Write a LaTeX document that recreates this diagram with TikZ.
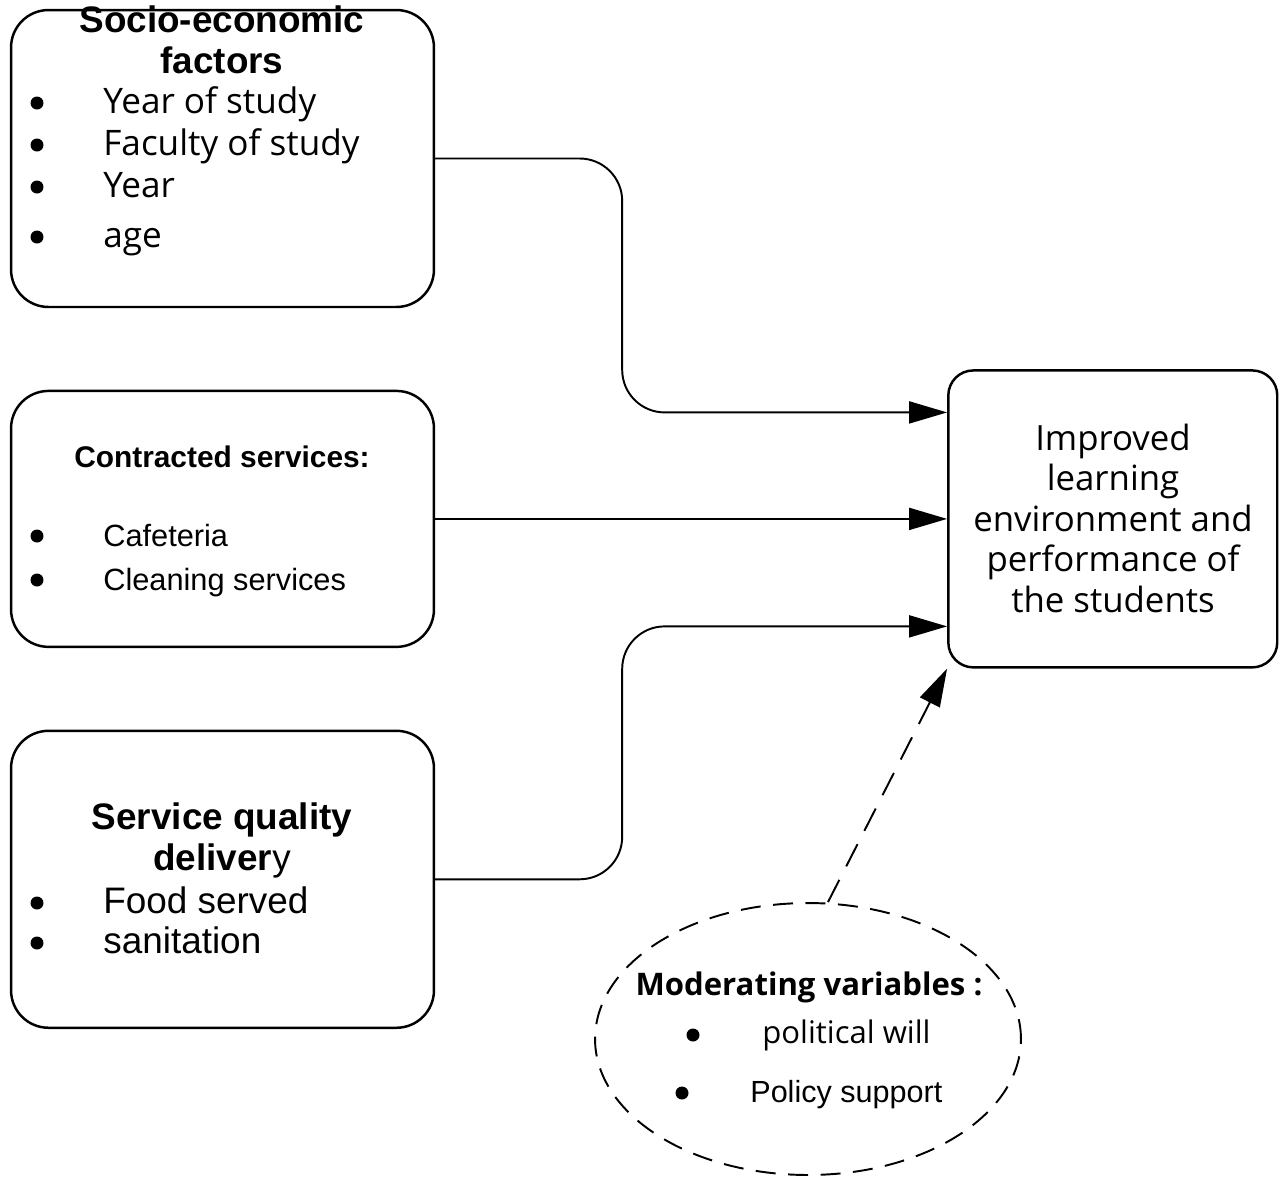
\documentclass[tikz,border=0pt]{standalone}
\usepackage{fontspec}
\setmainfont{Liberation Sans}
\newfontfamily\segoe{Open Sans}
\usetikzlibrary{arrows.meta,positioning,shapes.geometric}
\tikzset{
  frame/.style={rectangle, draw, line width=1.4pt, rounded corners=0.75cm, minimum width=8.46cm, minimum height=5.94cm},
  goal/.style={rectangle, draw, line width=1.4pt, rounded corners=0.5cm, minimum width=6.58cm, minimum height=5.94cm},
  cloud/.style={ellipse, draw, line width=1.1pt, dash pattern=on 0.4cm off 0.25cm, minimum width=8.52cm, minimum height=5.44cm},
  heading/.style={align=center, anchor=base, inner sep=0pt},
  item/.style={anchor=base west, inner sep=0pt},
  arrow/.style={draw, line width=1.1pt, -{Triangle[length=0.76cm,width=0.44cm]}, rounded corners=0.85cm}
}

\begin{document}
\begin{tikzpicture}[x=0.02cm, y=-0.02cm]
\useasboundingbox (0,0) rectangle (1281,1178);

% boxes
\node [frame] (socio) at (222.5,158.5) {};
\node [frame, minimum height=5.12cm, below=1.63cm of socio] (contract) {};
\node [frame, below=1.63cm of contract] (quality) {};
\node [goal, right=10.24cm of contract] (outcome) {};
\node [cloud] (moderate) at (808,1039) {};

% socio-economic factors
\node [heading, font=\bfseries\fontsize{21}{23.3}\selectfont] (sociotitle) at (222,73) {Socio-economic\\factors};
\foreach \t/\y [count=\i] in {Year of study/113, Faculty of study/155, Year/197, age/247} {
  \fill (37,{\y-10}) circle (0.13cm);
  \node [item, font=\segoe\fontsize{20}{23}\selectfont] (socio\i) at (103,\y) {\t};
}

% contracted services
\node [heading, font=\bfseries\fontsize{17}{20}\selectfont] (contracttitle) at (222,467) {Contracted services:};
\foreach \t/\y [count=\i] in {Cafeteria/546, Cleaning services/590} {
  \fill (37,{\y-10}) circle (0.13cm);
  \node [item, font=\fontsize{17.5}{20}\selectfont] (contract\i) at (103,\y) {\t};
}

% service quality
\node [heading, font=\fontsize{21}{23.3}\selectfont] (qualitytitle) at (222,870) {\textbf{Service quality}\\\textbf{deliver}y};
\foreach \t/\y [count=\i] in {Food served/913, sanitation/953} {
  \fill (37,{\y-10}) circle (0.13cm);
  \node [item, font=\fontsize{21}{23.3}\selectfont] (quality\i) at (103,\y) {\t};
}

% outcome
\node [heading, font=\segoe\fontsize{19.8}{23}\selectfont] (outcometext) at (1113,612)
{Improved\\learning\\environment and\\performance of\\the students};

% moderating variables
\node [heading, font=\segoe\bfseries\fontsize{17.7}{20}\selectfont] (moderatetitle) at (809,995) {Moderating variables :};
\fill (693,1035) circle (0.13cm);
\node [item, font=\segoe\fontsize{17.7}{20}\selectfont] (moderate1) at (762,1043) {political will};
\fill (682,1093) circle (0.13cm);
\node [item, font=\fontsize{17.4}{20}\selectfont] (moderate2) at (750,1102) {Policy support};

% connectors
\draw [arrow] (socio.east) -- ++(187,0) |- ([yshift=2.13cm]outcome.west);
\draw [arrow] (contract.east) -- (outcome.west);
\draw [arrow] (quality.east) -- ++(187,0) |- ([yshift=-2.15cm]outcome.west);
\draw [arrow, rounded corners=0pt, dash pattern=on 0.5cm off 0.3cm] ([xshift=0.4cm]moderate.north) -- (outcome.south west);

\end{tikzpicture}
\end{document}
